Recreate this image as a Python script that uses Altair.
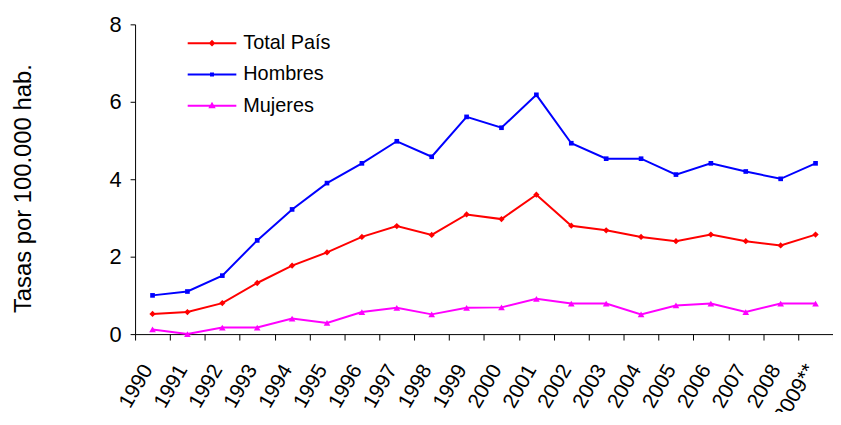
import altair as alt
import pandas as pd

years = ["1990", "1991", "1992", "1993", "1994", "1995", "1996", "1997", "1998", "1999",
         "2000", "2001", "2002", "2003", "2004", "2005", "2006", "2007", "2008", "2009**"]
series_names = ["Total País", "Hombres", "Mujeres"]
total = [0.52, 0.57, 0.80, 1.32, 1.77, 2.11, 2.51, 2.79, 2.56, 3.09,
         2.97, 3.60, 2.80, 2.68, 2.51, 2.40, 2.57, 2.40, 2.29, 2.57]
hombres = [1.00, 1.10, 1.51, 2.42, 3.22, 3.90, 4.41, 4.98, 4.58, 5.61,
           5.33, 6.18, 4.93, 4.53, 4.53, 4.12, 4.41, 4.20, 4.01, 4.41]
mujeres = [0.12, 0.00, 0.17, 0.17, 0.40, 0.29, 0.57, 0.68, 0.51, 0.68,
           0.69, 0.91, 0.79, 0.79, 0.51, 0.74, 0.79, 0.57, 0.79, 0.79]
colors = ["#FF0000", "#0000FF", "#FF00FF"]
marker_shapes = ["diamond", "square", "triangle-up"]
marker_sizes = [40, 22, 45]
legend_paths = [
    "M-46,0H3M-21.5,-2L-19.5,0L-21.5,2L-23.5,0Z",
    "M-46,0H3M-22.5,-1H-20.5V1H-22.5Z",
    "M-46,0H3M-21.5,-2L-19.5,1.5H-23.5Z",
]

rows = []
for name, vals in zip(series_names, [total, hombres, mujeres]):
    for yr, v in zip(years, vals):
        rows.append({"year": yr, "serie": name, "tasa": v})
df = pd.DataFrame(rows)

FONT = "Liberation Sans"

x_enc = alt.X(
    "year:N", sort=years, bandPosition=0.5,
    scale=alt.Scale(type="band", paddingInner=0, paddingOuter=0),
    axis=alt.Axis(title=None, tickBand="extent", labelAngle=-60, labelAlign="right",
                  labelBaseline="middle", labelPadding=26, labelOffset=-5,
                  labelFontSize=21, labelFont=FONT,
                  labelColor="black", tickSize=6, tickColor="black", domainColor="black",
                  grid=False, labelOverlap=False),
)
y_enc = alt.Y(
    "tasa:Q",
    scale=alt.Scale(domain=[0, 8], nice=False),
    axis=alt.Axis(values=[0, 2, 4, 6, 8], title="Tasas por 100.000 hab.", titleFont=FONT,
                  titleFontSize=24, titleFontWeight="normal", titleColor="black",
                  titleX=-112, titleY=165, titleBaseline="middle",
                  labelFont=FONT, labelFontSize=22, labelColor="black", labelPadding=9,
                  tickSize=5, tickColor="black", domainColor="black", grid=False),
)

layers = []
for name, col in zip(series_names, colors):
    layers.append(
        alt.Chart(df).transform_filter(alt.datum.serie == name)
        .mark_line(strokeWidth=2, color=col)
        .encode(x=x_enc, y=y_enc)
    )
for name, col, shp, sz in zip(series_names, colors, marker_shapes, marker_sizes):
    layers.append(
        alt.Chart(df).transform_filter(alt.datum.serie == name)
        .mark_point(filled=True, opacity=1, color=col, shape=shp, size=sz)
        .encode(x=x_enc, y=y_enc)
    )

leg = alt.Legend(title=None, orient="none", legendX=89, legendY=9, padding=0,
                 symbolSize=4, symbolStrokeWidth=2, symbolOffset=0,
                 labelFont=FONT, labelFontSize=20, labelColor="black", labelOffset=0,
                 rowPadding=11.5)
legend_layer = alt.Chart(df).transform_filter("false").mark_point(
    filled=False, opacity=1, strokeWidth=2
).encode(
    x=x_enc, y=y_enc,
    color=alt.Color("serie:N", scale=alt.Scale(domain=series_names, range=colors), legend=leg),
    shape=alt.Shape("serie:N", scale=alt.Scale(domain=series_names, range=legend_paths), legend=leg),
)
layers.append(legend_layer)

chart = alt.layer(*layers).properties(
    width=703, height=312,
    autosize=alt.AutoSizeParams(type="none"),
    padding={"left": 128, "top": 15, "right": 0, "bottom": 77},
    background="white",
).configure_view(stroke=None)

chart.save("out.html", embed_options={"renderer": "svg", "actions": False})
